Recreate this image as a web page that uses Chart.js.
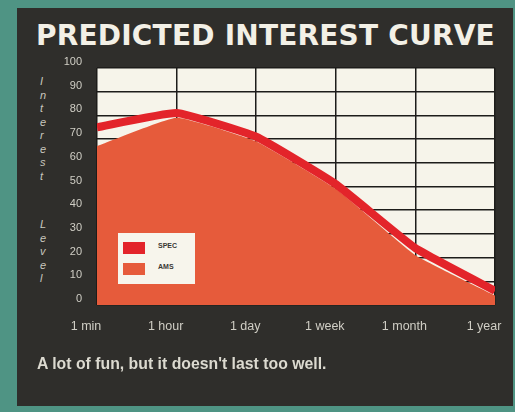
<!DOCTYPE html>
<html>
<head>
<meta charset="utf-8">
<title>Predicted Interest Curve</title>
<script src="https://cdn.jsdelivr.net/npm/chart.js@4.4.1/dist/chart.umd.min.js"></script>
<style>
  html, body { margin: 0; padding: 0; }
  body {
    width: 515px; height: 412px; overflow: hidden; position: relative;
    background: #4f9484;
    font-family: "Liberation Sans", Arial, sans-serif;
  }
  #panel { position: absolute; left: 17px; top: 8px; width: 496px; height: 398px; background: #2f2e2b; }
  #chart { position: absolute; left: 0; top: 0; }
  #title {
    position: absolute; left: 36px; top: 19px; white-space: nowrap;
    font: bold 28px "DejaVu Sans", sans-serif; letter-spacing: 0.2px; color: #f3f0e6;
  }
  .ytitle {
    position: absolute; left: 40px; width: 1px; word-break: break-all;
    font: italic 11px "Liberation Sans", sans-serif; line-height: 13.5px; color: #c9c7be;
  }
  #caption {
    position: absolute; left: 37px; top: 355px; white-space: nowrap;
    font: bold 17px "Liberation Sans", sans-serif; line-height: 17px; color: #dcdad0;
    transform: scaleX(0.93); transform-origin: left top;
  }
  #legend {
    position: absolute; left: 118px; top: 233px; width: 77px; height: 51px;
    background: #f7f5ec; box-sizing: border-box; padding-top: 9px;
  }
  #legend .item { position: relative; height: 21px; }
  #legend .swatch { position: absolute; left: 5px; top: 0; width: 22px; height: 12px; }
  #legend .label {
    position: absolute; left: 40px; top: 0; line-height: 12px;
    font: bold 7px "Liberation Sans", sans-serif; color: #3a3834;
  }
</style>
</head>
<body>
<div id="panel"></div>
<div id="title">PREDICTED INTEREST CURVE</div>
<div class="ytitle" style="top:75px">Interest</div>
<div class="ytitle" style="top:218px">Level</div>
<canvas id="chart" width="515" height="412"></canvas>
<div id="legend"></div>
<div id="caption">A lot of fun, but it doesn't last too well.</div>
<script>
// time since first play
const periods = ['1 min', '1 hour', '1 day', '1 week', '1 month', '1 year'];
// interest level, 0-100
const specInterest = [75, 81, 71, 51, 24, 6];
const amsInterest = [67, 79, 69, 49, 21, 4];
const yMin = 0, yMax = 100, yStep = 10;

// cream paper behind the plot
const plotBackground = {
  id: 'plotBackground',
  beforeDraw(chart) {
    const { ctx, chartArea: a } = chart;
    ctx.save();
    ctx.fillStyle = '#f6f4ea';
    ctx.fillRect(a.left, a.top, a.width, a.height);
    ctx.restore();
  }
};

// key box sits on top of the fill, so build it in the DOM
const htmlLegend = {
  id: 'htmlLegend',
  afterUpdate(chart) {
    const box = document.getElementById('legend');
    box.innerHTML = '';
    chart.data.datasets.forEach(ds => {
      const row = document.createElement('div');
      row.className = 'item';
      const sw = document.createElement('span');
      sw.className = 'swatch';
      sw.style.background = ds.fill ? ds.backgroundColor : ds.borderColor;
      const txt = document.createElement('span');
      txt.className = 'label';
      txt.textContent = ds.label;
      row.appendChild(sw);
      row.appendChild(txt);
      box.appendChild(row);
    });
  }
};

const gridColor = '#1d1c1a';
const tickColor = '#d0cec5';

new Chart(document.getElementById('chart').getContext('2d'), {
  type: 'line',
  data: {
    labels: periods,
    datasets: [
      {
        label: 'SPEC',
        data: specInterest,
        borderColor: '#e3242a',
        borderWidth: 8,
        pointRadius: 0,
        tension: 0.12,
        fill: false,
        clip: 0
      },
      {
        label: 'AMS',
        data: amsInterest,
        borderWidth: 0,
        backgroundColor: '#e65b3b',
        pointRadius: 0,
        tension: 0.12,
        fill: 'origin',
        clip: 0
      }
    ]
  },
  options: {
    responsive: false,
    animation: false,
    layout: { padding: { left: 0, top: 68, right: 20, bottom: 0 } },
    plugins: {
      legend: { display: false },
      tooltip: { enabled: false }
    },
    scales: {
      x: {
        offset: false,
        border: { display: false },
        grid: { color: gridColor, lineWidth: 1.5, drawTicks: false },
        ticks: {
          color: tickColor,
          font: { family: 'Liberation Sans', size: 12.5 },
          padding: 14,
          labelOffset: -11,
          maxRotation: 0,
          autoSkip: false
        },
        afterFit(scale) {
          scale.height = 107;
          // labels are pulled inward, no extra edge room needed
          scale.paddingLeft = 0;
          scale.paddingRight = 0;
        }
      },
      y: {
        min: yMin,
        max: yMax,
        border: { display: false },
        grid: { color: gridColor, lineWidth: 1.5, drawTicks: false },
        ticks: {
          stepSize: yStep,
          color: tickColor,
          font: { family: 'Liberation Sans', size: 11 },
          padding: 15,
          labelOffset: -6
        },
        afterFit(scale) { scale.width = 97; }
      }
    }
  },
  plugins: [plotBackground, htmlLegend]
});
</script>
</body>
</html>
